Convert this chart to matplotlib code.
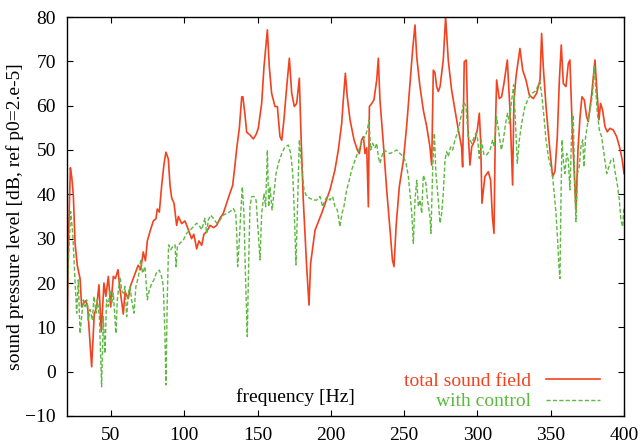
import matplotlib
matplotlib.use("Agg")
import matplotlib.pyplot as plt

plt.rcParams['font.family'] = ['Liberation Serif', 'DejaVu Serif']
plt.rcParams['mathtext.fontset'] = 'stix'

# ---- data ----
freq_total = [20, 21, 22.3, 23.2, 24.3, 25.5, 27, 28.9, 30, 31.5, 32.6, 34, 36.8, 38.6, 40.2, 41.8, 43.4,
              45.2, 46.5, 48.2, 49.8, 51.6, 53, 54.8, 56, 58.4, 59.6, 61.8, 63.5, 65.7, 68.6, 70.3, 72, 73.5,
              74.8, 76.6, 78.9, 80.7, 81.6, 83, 84.6, 86.2, 87.5, 89.1, 90.3, 91.4, 93, 94.8, 96, 98.2, 100.5,
              102.8, 105, 106.5, 108.5, 110, 111.9, 113.4, 115.3, 117.6, 120, 122.1, 124.4, 126.6, 128.9,
              131.2, 133, 134.6, 135.8, 137.6, 139.2, 140, 141.4, 142.6, 144.8, 147.1, 149, 150.5, 152.8,
              154.4, 156.7, 158, 159.6, 161.9, 163.5, 165.3, 166.5, 168, 169.9, 171.7, 173.3, 175.1, 176.7,
              178.5, 179.6, 181.2, 183.5, 185.1, 186.2, 189.2, 193.7, 199.4, 202.8, 205.1, 207.4, 208.5,
              209.9, 211.2, 213.1, 215.8, 218.1, 219.4, 221, 222.2, 223.3, 224.5, 225.6, 226.3, 227.9, 229.4,
              231.3, 232.4, 233.5, 235.8, 238.1, 240.4, 242, 243.1, 244.5, 246.7, 249.5, 251.7, 254, 255.8,
              257.4, 258.6, 260.8, 263.1, 265.4, 267.6, 268.8, 269.9, 271, 272.2, 273.3, 274.5, 276.7, 278.3,
              280.1, 282.4, 284.7, 287, 289.2, 289.9, 291, 292.4, 293.5, 294.9, 296.1, 298.3, 299.9, 301.3,
              302.2, 303.1, 305.1, 307.4, 309, 310.2, 311.3, 312.2, 313.1, 314.9, 316.5, 318.1, 320.4, 322.2,
              324, 324.9, 326.3, 329, 330.9, 333.1, 335.4, 338.1, 340.4, 342.7, 343.8, 344.9, 346.8, 349,
              351.3, 352.9, 354.5, 355.9, 357.2, 358.6, 360.4, 362, 363.1, 364.7, 366.1, 367.2, 368.6, 370,
              371.3, 372.9, 374.5, 375.6, 376.8, 378, 379.1, 380.2, 381.3, 382.9, 384, 385.4, 387, 388.6,
              390.4, 392.7, 395, 397.2, 398.8, 400]
spl_total = [6.5, 30, 46, 44, 40, 29, 24, 21, 14.6, 15.5, 16, 15, 1.1, 13, 14.5, 19.6, 9,
             20, 17, 21.5, 14.6, 21.5, 21, 23, 19, 13, 18, 16.5, 19.5, 21.5, 24, 23, 27, 25,
             29.5, 31.6, 34, 34.5, 36.7, 36, 42, 46.9, 49.5, 48, 42, 39.2, 38, 33, 35, 33.4, 34,
             32, 30, 31, 27.7, 29.5, 28.5, 31, 31.6, 33, 32.5, 33, 34.6, 35.7, 38,
             40.3, 42, 46.6, 50.4, 55, 62, 62, 58, 54, 53.4, 52.5, 53.5, 54.9, 60.5,
             68.8, 77.1, 68.8, 62.8, 59.8, 59.8, 53, 52.2, 56.8, 64.3, 70.7, 62.8, 59.8, 60.5,
             66.2, 53.8, 38.7, 23.7, 15, 24.4, 31.9, 35.7, 41, 45.5, 50, 56, 61.3,
             67.3, 62, 56.8, 52.3, 50, 49.2, 52.3, 53, 49.2, 50.5, 37.2, 59.8, 60.5, 61.3,
             65.8, 70.7, 61.3, 51.5, 41, 31.9, 25.2, 23.7, 32.7, 41.7, 47.7, 55.3, 65, 72.6,
             78.2, 71, 64.3, 59, 55.3, 50.7, 46.6, 68, 67.5, 64.3, 63.2, 64.3, 70.3, 80,
             70.3, 63.5, 59, 54.5, 50.7, 46.2, 69.9, 70.3, 55, 46.6, 50.7, 52.3, 54.5, 58.3,
             52, 38, 44, 45.1, 43.2, 35, 31.2, 54, 65.8, 61.6, 62, 65, 70.3, 59,
             42.1, 61, 66.5, 72.9, 68, 65.8, 62.4, 61.6, 62.8, 65.8, 76.3, 69, 59.8, 51.5,
             44, 45.2, 53, 65.8, 73.7, 65, 64.3, 69.5, 70.3, 55, 44.7, 36.5, 50, 57.5,
             62, 61.3, 57.5, 56.4, 59.5, 62.8, 66.5, 70.3, 64.5, 56.8, 60.5, 59, 55.3, 54.1,
             54.9, 54.5, 53, 50.4, 47.7, 44.7]

freq_ctrl = [20, 21, 22.5, 23.9, 24.8, 25.9, 26.6, 27.7, 28.9, 30, 31.1, 32.3, 33.4, 34.5, 35.7, 37.3,
             38.4, 39.8, 40.7, 42.1, 43.6, 44.8, 45.9, 47, 48.2, 49.3, 50.5, 51.6, 53.4, 54.3, 56.2,
             57.3, 58.4, 59.6, 60.7, 61.8, 63, 64.1, 65.7, 67, 68.7, 70.3, 71.6, 73.2, 74.8, 76.2,
             77.8, 79.3, 81.2, 83, 84.6, 85.7, 86.8, 87.5, 88.4, 89.3, 90.7, 92.1, 93.7, 94.4, 95.3,
             97.1, 99.4, 101.6, 103.9, 106.2, 108.5, 110.7, 111.9, 114.1, 115.3, 116.4, 118, 119.8,
             122.1, 124.4, 126.6, 128.9, 131.2, 133.5, 135.1, 135.8, 136.4, 137.6, 138.5, 139.6,
             140.7, 141.9, 143, 143.9, 144.8, 146, 147.6, 149, 150.5, 151.7, 152.8, 154.4, 155.5,
             156.7, 157.6, 158.5, 159.9, 161.2, 162.6, 164.2, 166.5, 168.7, 171, 172.6, 174, 175.1,
             176.2, 177.4, 178.5, 180.1, 181.7, 183.5, 185.8, 188, 190.3, 192.6, 194.4, 196, 197.6,
             199.4, 201.2, 202.8, 204.4, 206.2, 207.6, 208.9, 210.8, 212.6, 214.2, 216.5, 218.1,
             219.9, 221.7, 223.3, 224.9, 226, 227.2, 228.5, 230.1, 231.3, 232.4, 233.5, 234.7, 236.3,
             238.1, 240.4, 242.6, 244.9, 247.2, 249.5, 251.3, 252.9, 254, 255.2, 256.3, 257.4, 258.6,
             259.7, 260.8, 262, 263.1, 264.7, 266, 267.6, 268.3, 269.5, 270.6, 271.7, 273.3, 274.5,
             275.6, 276.7, 277.9, 279, 280.1, 281.7, 283.1, 284.7, 287, 289.2, 290.8, 292.2, 293.8,
             296.1, 297.9, 299, 300.2, 301.3, 302.6, 304.5, 306.3, 308.6, 310.4, 311.5, 313.1, 314.7,
             316.3, 317.7, 319.2, 320.6, 321.8, 323.1, 324.7, 325.8, 327.2, 328.6, 330.2, 332.4,
             334.7, 337, 339.3, 341.1, 342.7, 344, 345.4, 346.8, 348.4, 350, 351.3, 352.4, 353.6,
             354.7, 355.6, 356.3, 357, 357.7, 358.6, 359.7, 360.9, 362, 363.1, 364.3, 365.4, 366.1,
             367.2, 368.3, 369.5, 370.6, 371.8, 372.7, 373.8, 374.9, 376.3, 377.2, 378.6, 379.7,
             380.6, 381.8, 383.2, 384.7, 386.3, 388.2, 389.7, 391.1, 392.7, 393.7, 395.7, 396.8,
             397.9, 399.1, 400]
spl_ctrl = [15.4, 25, 36.1, 31.2, 25, 17.7, 13.2, 20.7, 8.6, 12.4, 16.2, 14.7, 16.2, 11.6, 14, 11.6,
            17, 13.2, 16.2, 12.4, -3.4, 12.4, 4.1, 16.2, 14.7, 18.4, 15.4, 17.7, 8.6, 16.2, 21.4,
            18.4, 17.7, 19.2, 12.4, 17.7, 19.2, 16.2, 13.2, 19.2, 21.4, 25.2, 22.2, 23.7, 16.2, 18.4,
            19.9, 20.7, 22.5, 22.9, 21.4, 19.2, 8.6, -3, 16.2, 28.6, 27.5, 28.2, 28.6, 23.7, 28.2,
            29, 29.7, 31.2, 31.9, 32.7, 33.5, 32.7, 32, 34.6, 31.2, 34.2, 35.3, 34.6,
            33.5, 34.2, 35.3, 35.7, 36.1, 36.8, 35.7, 31.2, 23.7, 29.7, 35.7, 41.7,
            35.7, 20, 7.9, 23.7, 37.2, 39.5, 39.5, 38.7, 31.2, 25.2, 35.7, 40.2, 37.2,
            50, 37.2, 41.7, 36.5, 40.2, 44.7, 47, 49.2, 50.7, 51.1, 49.2, 44.7, 35.7,
            24.1, 38.7, 52.3, 46.2, 41, 39.5, 39.1, 38.7, 38.7, 39.5, 37.2, 38.7, 39.5,
            38.7, 39.5, 37.2, 36.5, 32.7, 35.7, 37.2, 41, 43.2, 45.5, 47.7, 49.2,
            50.7, 52.3, 53, 54.5, 56.8, 50, 51.5, 50.4, 51.5, 48.5, 47, 48.5, 50,
            49.6, 49.2, 49.6, 50, 49.2, 48.5, 47, 44, 40.2, 35.7, 28.9, 38.7, 43.2,
            37.2, 38.7, 35.7, 44.3, 42.8, 38.7, 35, 31.2, 46, 53.8, 44.7, 38.7, 33.5,
            35.7, 40.2, 47.7, 49.6, 48.5, 50.7, 50, 52.3, 54.5, 58.3, 60.9, 59.8, 53,
            51.5, 53, 53.8, 52.3, 48.1, 52.3, 48.9, 48.9, 50, 52.3, 50.7, 57.5, 53.8,
            50, 52.3, 56, 58.3, 56, 60.5, 64.7, 57.5, 47, 52.3, 56, 59.8,
            61.6, 62.8, 63.2, 64.3, 65.4, 62, 57.5, 52.3, 48.5, 46.2, 44, 40.2, 35.7,
            29.7, 23.7, 21, 38.7, 52.3, 47.7, 44.7, 49.2, 47.7, 41, 53.8, 57.9, 46.2,
            33.8, 44.7, 46.2, 50.7, 52.3, 46.2, 53, 55.3, 58.3, 59.8, 62.8, 68.8,
            64.3, 58.3, 54.5, 53, 49.2, 44.7, 46.2, 47.7, 48.1, 45.5, 41.7, 38.7,
            34.2, 32.7, 37.2]

xticks = [50, 100, 150, 200, 250, 300, 350, 400]
yticks = [-10, 0, 10, 20, 30, 40, 50, 60, 70, 80]

red = '#f2421f'
green = '#5cb83e'

fig = plt.figure(figsize=(6.42, 4.45), dpi=100)
ax = fig.add_axes([67/642, 29/445, 557/642, 399/445])

ax.plot(freq_total, spl_total, color=red, lw=1.2, label='total sound field')
ax.plot(freq_ctrl, spl_ctrl, color=green, lw=1.0, dashes=(3, 1.6), label='with control')

ax.set_xlim(20, 400)
ax.set_ylim(-10, 80)
ax.set_xticks(xticks)
ax.set_yticks(yticks)
ax.tick_params(direction='in', top=True, right=True, length=4.5, width=0.8,
               labelsize=14, pad=8)
for s in ax.spines.values():
    s.set_linewidth(1.0)

ax.set_ylabel('sound pressure level [dB, ref p0=2.e-5]', fontsize=14)
ax.yaxis.set_label_coords(-0.078, 0.5)
ax.set_xlabel('frequency [Hz]', fontsize=14)
ax.xaxis.set_label_coords(0.411, 0.048)
ax.xaxis.label.set_verticalalignment('center')

leg = ax.legend(loc='lower right', bbox_to_anchor=(0.957, 0.014), frameon=False,
                markerfirst=False, fontsize=14, handlelength=2.8, handletextpad=0.75,
                labelspacing=0.15, borderpad=0, borderaxespad=0)
for txt, line in zip(leg.get_texts(), leg.get_lines()):
    txt.set_color(line.get_color())
    txt.set_ha('right')

fig.savefig('out.png', dpi=100)
